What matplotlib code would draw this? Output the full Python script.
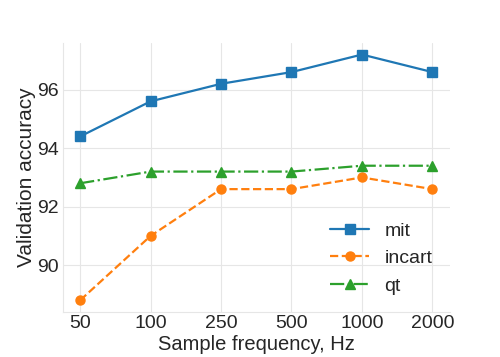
import matplotlib
matplotlib.use("Agg")
import matplotlib.pyplot as plt
import seaborn as sns

# data
freqs = ["50", "100", "250", "500", "1000", "2000"]
mit = [94.4, 95.6, 96.2, 96.6, 97.2, 96.6]
incart = [88.8, 91.0, 92.6, 92.6, 93.0, 92.6]
qt = [92.8, 93.2, 93.2, 93.2, 93.4, 93.4]

sns.set_theme(style="whitegrid")
plt.rcParams["font.family"] = ["Liberation Sans", "DejaVu Sans"]

fig = plt.figure(figsize=(5, 3.57), dpi=100)
ax = fig.add_axes([0.125, 0.126, 0.775, 0.754])

x = range(len(freqs))
ax.plot(x, mit, "-", marker="s", markersize=6.5, lw=1.6, color="#1f77b4", label="mit")
ax.plot(x, incart, "--", marker="o", markersize=6.5, lw=1.6, color="#ff7f0e", label="incart")
ax.plot(x, qt, "-.", marker="^", markersize=6.5, lw=1.6, color="#2ca02c", label="qt")

ax.set_xticks(list(x))
ax.set_xticklabels(freqs)
ax.set_xlim(-0.25, 5.25)
ax.set_ylim(88.4, 97.6)
ax.set_yticks([90, 92, 94, 96])
ax.grid(True, color="#e6e6e6", lw=0.8)
ax.tick_params(labelsize=14, length=0, pad=2.5, colors="#262626")
ax.set_xlabel("Sample frequency, Hz", fontsize=14.5, labelpad=2)
ax.set_ylabel("Validation accuracy", fontsize=15, labelpad=1)
ax.spines["top"].set_visible(False)
ax.spines["right"].set_visible(False)
for s in ("left", "bottom"):
    ax.spines[s].set_color("#e6e6e6")
    ax.spines[s].set_linewidth(0.8)
ax.legend(loc="lower right", frameon=False, fontsize=14)

fig.savefig("out.png", dpi=100)
